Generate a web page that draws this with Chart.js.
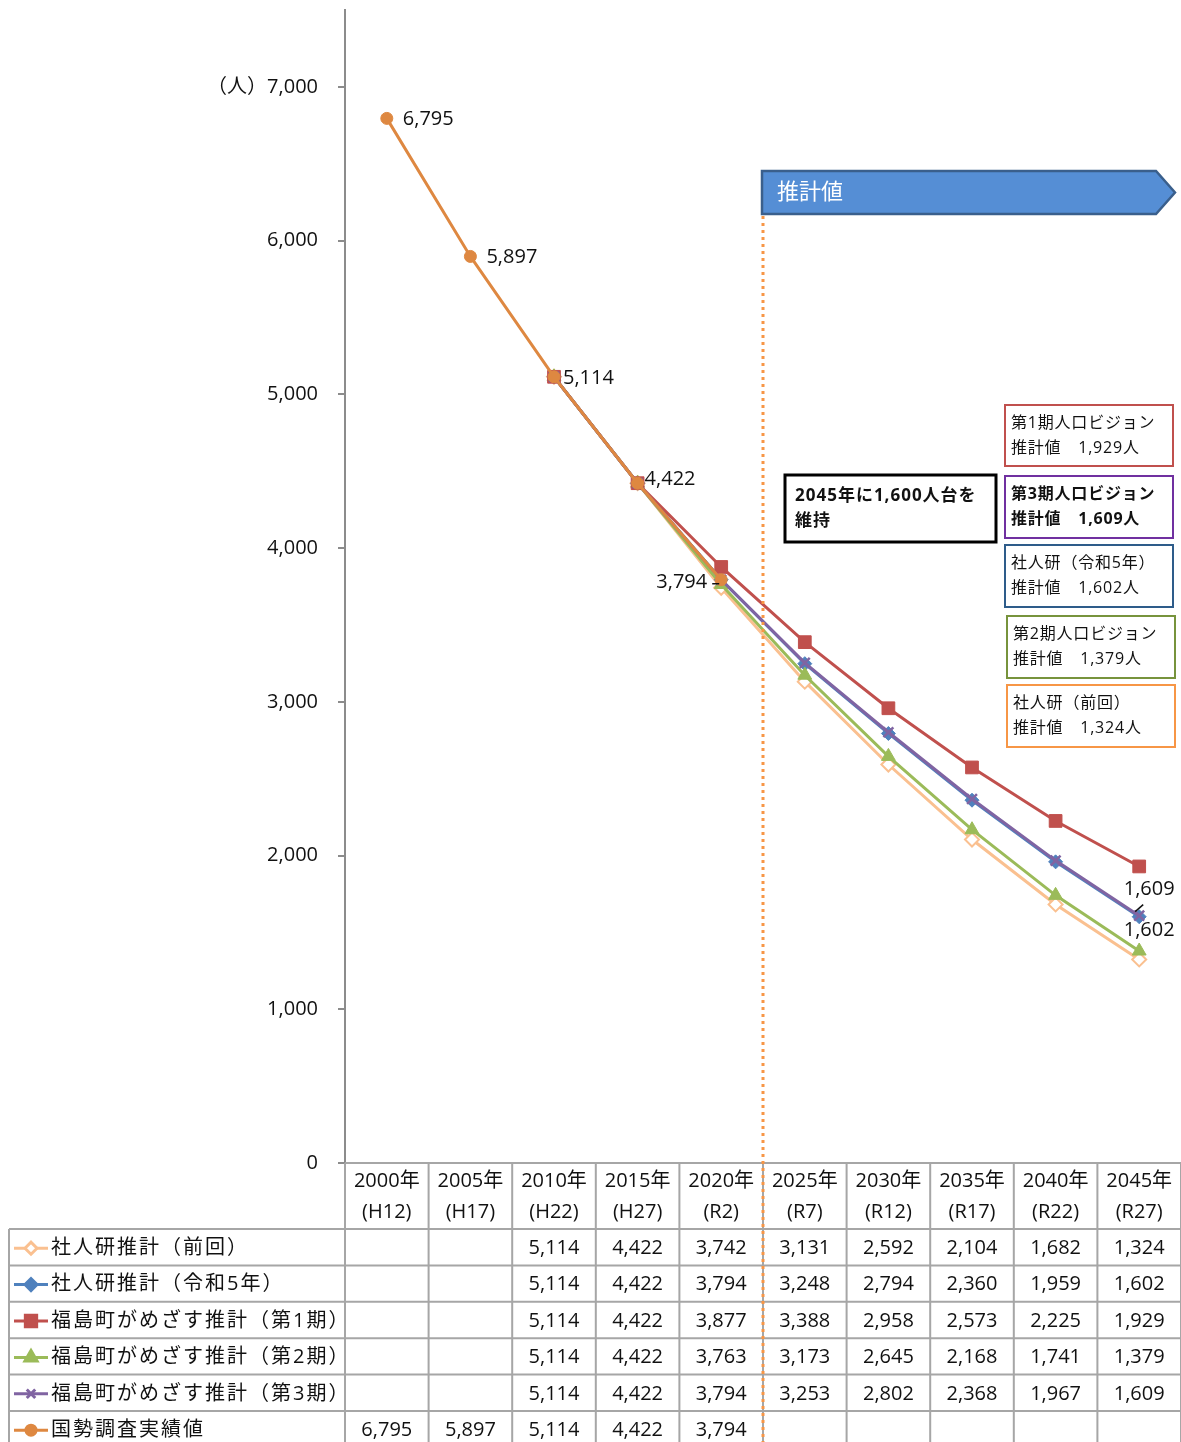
<!DOCTYPE html>
<html lang="ja">
<head>
<meta charset="utf-8">
<title>福島町 人口推計</title>
<script src="https://cdn.jsdelivr.net/npm/chart.js@4.4.1/dist/chart.umd.min.js"></script>
<style>
  html, body { margin: 0; padding: 0; background: #fff; }
  #wrap { width: 1181px; height: 1442px; position: relative; }
  canvas { display: block; }
</style>
</head>
<body>
<div id="wrap"><canvas id="chart" width="1181" height="1442"></canvas></div>
<script>
// years on the x axis, two lines each in the table header
const years   = ["2000年", "2005年", "2010年", "2015年", "2020年", "2025年", "2030年", "2035年", "2040年", "2045年"]
const eras    = ["(H12)", "(H17)", "(H22)", "(H27)", "(R2)", "(R7)", "(R12)", "(R17)", "(R22)", "(R27)"]

// population (人)
const ipssPrev = [null, null, 5114, 4422, 3742, 3131, 2592, 2104, 1682, 1324]
const ipssR5   = [null, null, 5114, 4422, 3794, 3248, 2794, 2360, 1959, 1602]
const goal1    = [null, null, 5114, 4422, 3877, 3388, 2958, 2573, 2225, 1929]
const goal2    = [null, null, 5114, 4422, 3763, 3173, 2645, 2168, 1741, 1379]
const goal3    = [null, null, 5114, 4422, 3794, 3253, 2802, 2368, 1967, 1609]
const census   = [6795, 5897, 5114, 4422, 3794, null, null, null, null, null]

const yTicks = [0, 1000, 2000, 3000, 4000, 5000, 6000, 7000]

// Open Sans for latin digits, Noto CJK for the rest
const FONT = '"Open Sans", "Noto Sans CJK JP", sans-serif'
const fmt = (v) => Number(v).toLocaleString("en-US")

// series in table order (top row first)
const series = [
  { label: "社人研推計（前回）",          data: ipssPrev, color: "#FAC090", style: "rectRot",  radius: 7, fill: "#ffffff" },
  { label: "社人研推計（令和5年）",       data: ipssR5,   color: "#4F81BD", style: "rectRot",  radius: 7 },
  { label: "福島町がめざす推計（第1期）", data: goal1,    color: "#C0504D", style: "rect",     radius: 9 },
  { label: "福島町がめざす推計（第2期）", data: goal2,    color: "#9BBB59", style: "triangle", radius: 8 },
  { label: "福島町がめざす推計（第3期）", data: goal3,    color: "#8064A2", style: "crossRot", radius: 7 },
  { label: "国勢調査実績値",              data: census,   color: "#DE8841", style: "circle",   radius: 6 }
]

// stacking: first dataset is painted last (on top)
const drawOrder = [5, 4, 2, 3, 1, 0]

const datasets = drawOrder.map((i) => {
  const s = series[i]
  return {
    label: s.label,
    data: s.data,
    borderColor: s.color,
    backgroundColor: s.fill || s.color,
    borderWidth: 3,
    pointStyle: s.style,
    pointRadius: s.radius,
    pointBorderColor: s.color,
    pointBorderWidth: s.style === "crossRot" ? 2.5 : (s.fill ? 2 : 1),
    pointBackgroundColor: s.fill || s.color,
    tension: 0
  }
})

// value labels: series index, category index, offsets, alignment, optional leader line
const valueLabels = [
  { s: 5, i: 0, dx: 16,  dy: 1,   align: "left" },
  { s: 5, i: 1, dx: 16,  dy: 1,   align: "left" },
  { s: 5, i: 2, dx: 9,   dy: 1,   align: "left" },
  { s: 5, i: 3, dx: 7,   dy: -4,  align: "left" },
  { s: 5, i: 4, dx: -14, dy: 3,   align: "right", lead: [[-9, 4], [-2, 4]] },
  { s: 4, i: 9, dx: 10,  dy: -26, align: "center", lead: [[4, -11], [-4, -4]] },
  { s: 1, i: 9, dx: 10,  dy: 14,  align: "center" }
]

function drawMarker(ctx, s, x, y) {
  Chart.helpers.drawPoint(ctx, {
    pointStyle: s.style, radius: s.radius - 1, borderWidth: s.fill ? 2 : (s.style === "crossRot" ? 2.5 : 1), rotation: 0
  }, x, y)
}

const extras = {
  id: "extras",
  afterDatasetsDraw(chart) {
    const { ctx } = chart
    const metaFor = (si) => chart.getDatasetMeta(drawOrder.indexOf(si))

    // value labels
    ctx.save()
    ctx.font = `20px ${FONT}`
    ctx.fillStyle = "#111"
    ctx.textBaseline = "middle"
    ctx.strokeStyle = "#111"
    ctx.lineWidth = 1.5
    for (const l of valueLabels) {
      const pt = metaFor(l.s).data[l.i]
      ctx.textAlign = l.align
      ctx.fillText(fmt(series[l.s].data[l.i]), pt.x + l.dx, pt.y + l.dy)
      if (l.lead) {
        ctx.beginPath()
        ctx.moveTo(pt.x + l.lead[0][0], pt.y + l.lead[0][1])
        ctx.lineTo(pt.x + l.lead[1][0], pt.y + l.lead[1][1])
        ctx.stroke()
      }
    }
    ctx.restore()
  },
  afterDraw(chart) {
    const { ctx, scales: { x }, chartArea, height } = chart
    const step = x.getPixelForValue(1) - x.getPixelForValue(0)
    const bounds = years.map((_, i) => x.getPixelForValue(i) - step / 2)
    bounds.push(x.getPixelForValue(years.length - 1) + step / 2)

    const baseY = chartArea.bottom
    const headH = 66
    const rowH = 36.4
    const tableTop = baseY + headH
    const leftEdge = 9

    ctx.save()
    // grid of the data table
    ctx.strokeStyle = "#A6A6A6"
    ctx.lineWidth = 2
    ctx.beginPath()
    ctx.moveTo(chartArea.left, baseY)
    ctx.lineTo(bounds[bounds.length - 1], baseY)
    for (let r = 0; r <= series.length; r++) {
      const yy = tableTop + r * rowH
      ctx.moveTo(leftEdge, yy)
      ctx.lineTo(bounds[bounds.length - 1], yy)
    }
    for (const bx of bounds) {
      ctx.moveTo(bx, baseY)
      ctx.lineTo(bx, height)
    }
    ctx.moveTo(leftEdge, tableTop)
    ctx.lineTo(leftEdge, height)
    ctx.stroke()

    // header
    ctx.fillStyle = "#111"
    ctx.textAlign = "center"
    ctx.textBaseline = "middle"
    ctx.font = `20px ${FONT}`
    years.forEach((yr, i) => {
      const cx = x.getPixelForValue(i)
      ctx.fillText(yr, cx, baseY + 18)
      ctx.fillText(eras[i], cx, baseY + 49)
    })

    // rows: legend key, label, values
    series.forEach((s, r) => {
      const cy = tableTop + r * rowH + rowH / 2 + 1
      ctx.strokeStyle = s.color
      ctx.lineWidth = 3
      ctx.beginPath()
      ctx.moveTo(14, cy)
      ctx.lineTo(48, cy)
      ctx.stroke()
      ctx.fillStyle = s.fill || s.color
      ctx.strokeStyle = s.color
      drawMarker(ctx, s, 31, cy)

      ctx.fillStyle = "#111"
      ctx.textAlign = "left"
      ctx.font = `20px ${FONT}`
      ctx.letterSpacing = "2px"
      ctx.fillText(s.label, 51, cy)
      ctx.letterSpacing = "0px"
      ctx.textAlign = "center"
      ctx.font = `20px ${FONT}`
      s.data.forEach((v, i) => {
        if (v != null) ctx.fillText(fmt(v), x.getPixelForValue(i), cy)
      })
    })

    // boundary between actual and estimated
    const divX = bounds[5]
    ctx.strokeStyle = "#F79646"
    ctx.lineWidth = 3
    ctx.setLineDash([3, 4])
    ctx.beginPath()
    ctx.moveTo(divX, 216)
    ctx.lineTo(divX, height)
    ctx.stroke()
    ctx.setLineDash([])

    // 推計値 arrow banner
    ctx.beginPath()
    ctx.moveTo(762, 171)
    ctx.lineTo(1156, 171)
    ctx.lineTo(1175, 192.5)
    ctx.lineTo(1156, 214)
    ctx.lineTo(762, 214)
    ctx.closePath()
    ctx.fillStyle = "#558ED5"
    ctx.fill()
    ctx.strokeStyle = "#3A5F8C"
    ctx.lineWidth = 2.5
    ctx.stroke()
    ctx.fillStyle = "#fff"
    ctx.textAlign = "left"
    ctx.font = `22px ${FONT}`
    ctx.fillText("推計値", 777, 193)

    // callout boxes
    const boxes = [
      { x: 785,  y: 475, w: 211, h: 67, color: "#000",    lw: 3, bold: true,  size: 17, lines: ["2045年に1,600人台を", "維持"] },
      { x: 1005, y: 405, w: 168, h: 61, color: "#C0504D", lw: 2, bold: false, size: 16, lines: ["第1期人口ビジョン", "推計値　1,929人"] },
      { x: 1005, y: 476, w: 168, h: 62, color: "#7030A0", lw: 2, bold: true,  size: 16, lines: ["第3期人口ビジョン", "推計値　1,609人"] },
      { x: 1005, y: 545, w: 168, h: 62, color: "#2E5C8A", lw: 2, bold: false, size: 16, lines: ["社人研（令和5年）", "推計値　1,602人"] },
      { x: 1007, y: 616, w: 168, h: 62, color: "#77933C", lw: 2, bold: false, size: 16, lines: ["第2期人口ビジョン", "推計値　1,379人"] },
      { x: 1007, y: 685, w: 168, h: 62, color: "#F79646", lw: 2, bold: false, size: 16, lines: ["社人研（前回）", "推計値　1,324人"] }
    ]
    for (const b of boxes) {
      ctx.fillStyle = "#fff"
      ctx.fillRect(b.x, b.y, b.w, b.h)
      ctx.strokeStyle = b.color
      ctx.lineWidth = b.lw
      ctx.strokeRect(b.x, b.y, b.w, b.h)
      ctx.fillStyle = "#111"
      ctx.textAlign = "left"
      ctx.font = `${b.bold ? "bold " : ""}${b.size}px ${FONT}`
      ctx.letterSpacing = b.lw === 3 ? "1px" : "0.8px"
      const tx = b.x + (b.lw === 3 ? 10 : 6)
      const ty = b.y + (b.lw === 3 ? 21 : 18)
      b.lines.forEach((t, k) => ctx.fillText(t, tx, ty + k * 25))
      ctx.letterSpacing = "0px"
    }
    ctx.restore()
  }
}

new Chart(document.getElementById("chart"), {
  type: "line",
  data: { labels: years, datasets },
  options: {
    responsive: false,
    devicePixelRatio: 1,
    animation: false,
    layout: { autoPadding: false, padding: { top: 10, bottom: 279, left: 0, right: 0 } },
    plugins: { legend: { display: false }, tooltip: { enabled: false } },
    scales: {
      x: { type: "category", offset: true, display: false },
      y: {
        min: 0,
        max: 7500,
        afterBuildTicks: (axis) => { axis.ticks = yTicks.map((v) => ({ value: v })) },
        afterFit: (axis) => {
          axis.width = 345
          axis.paddingTop = 0
          axis.paddingBottom = 0
        },
        border: { display: true, color: "#8C8C8C", width: 2 },
        grid: { drawOnChartArea: false, drawTicks: true, tickLength: 7, color: "#8C8C8C", lineWidth: 2 },
        ticks: {
          padding: 20,
          color: "#111",
          font: { family: FONT, size: 20 },
          callback: (v) => (v === 7000 ? "（人）" : "") + fmt(v)
        }
      }
    }
  },
  plugins: [extras]
})
</script>
</body>
</html>
